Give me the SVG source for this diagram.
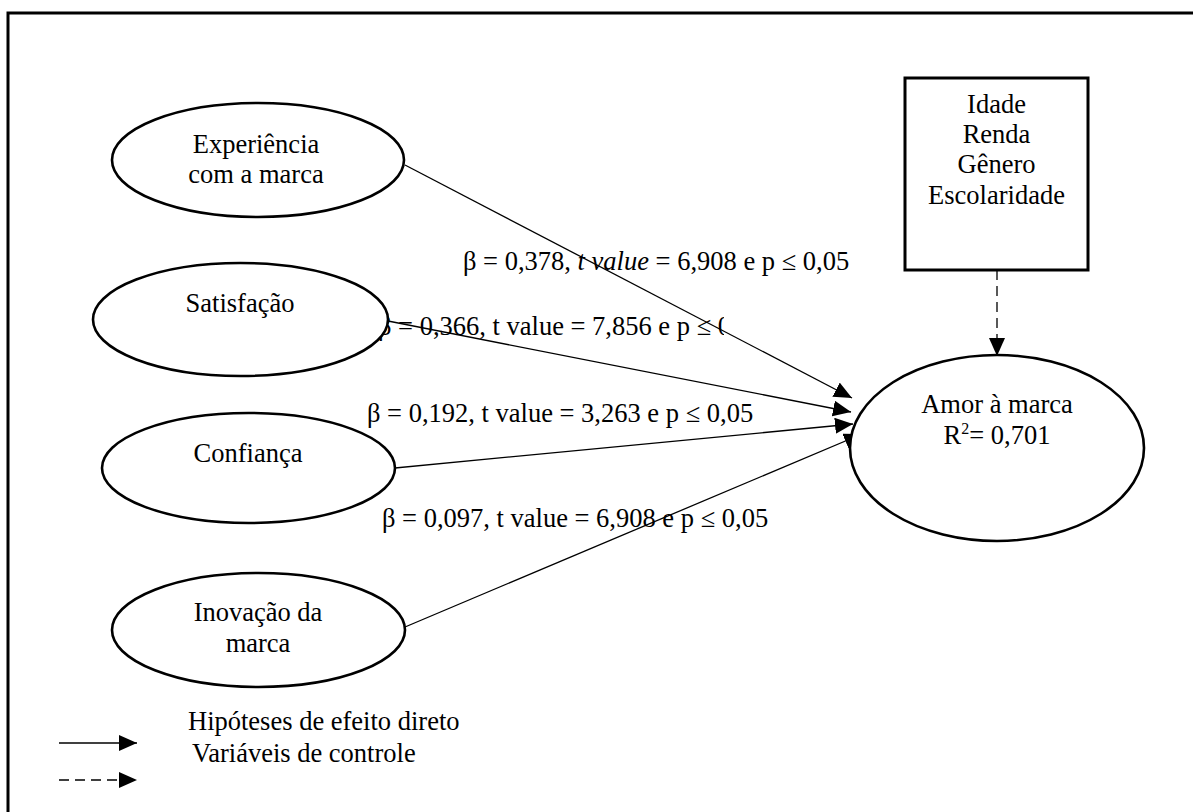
<svg xmlns="http://www.w3.org/2000/svg" width="1193" height="812" viewBox="0 0 1193 812">
<style>
text{font-family:"Liberation Serif","Times New Roman",serif;font-size:26.5px;fill:#000}
.c{text-anchor:middle}
.node{fill:#fff;stroke:#000;stroke-width:2.6}
.arr{stroke:#000;stroke-width:1.3;fill:none}
.dash{stroke-dasharray:10 6}
</style>
<defs>
<marker id="ah" markerUnits="userSpaceOnUse" markerWidth="20" markerHeight="16" refX="18" refY="8" orient="auto">
<path d="M0,0 L18,8 L0,16 Z" fill="#000"/>
</marker>
<clipPath id="clip2"><rect x="0" y="0" width="724" height="812"/></clipPath>
</defs>
<rect x="0" y="0" width="1193" height="812" fill="#fff"/>
<rect x="8" y="13" width="1200" height="820" fill="none" stroke="#000" stroke-width="3"/>
<g id="labels">
<text x="463" y="270">β = 0,378, <tspan font-style="italic">t value</tspan> = 6,908 e p ≤ 0,05</text>
<text x="378" y="335" clip-path="url(#clip2)">β = 0,366, t value = 7,856 e p ≤ 0,05</text>
<text x="367" y="422">β = 0,192, t value = 3,263 e p ≤ 0,05</text>
<text x="382" y="527">β = 0,097, t value = 6,908 e p ≤ 0,05</text>
</g>
<g id="connectors">
<line class="arr" x1="405" y1="165" x2="852" y2="398" marker-end="url(#ah)"/>
<line class="arr" x1="388" y1="321" x2="851" y2="412" marker-end="url(#ah)"/>
<line class="arr" x1="395" y1="468" x2="853" y2="424" marker-end="url(#ah)"/>
<line class="arr" x1="405" y1="627" x2="862" y2="434" marker-end="url(#ah)"/>
<line class="arr dash" x1="997" y1="270" x2="997" y2="356" marker-end="url(#ah)"/>
</g>
<g id="n-experiencia">
<ellipse class="node" cx="258" cy="160" rx="146" ry="57"/>
<text class="c" x="256" y="153">Experiência</text>
<text class="c" x="256" y="183">com a marca</text>
</g>
<g id="n-satisfacao">
<ellipse class="node" cx="240.5" cy="319.5" rx="147.5" ry="56.5"/>
<text class="c" x="240" y="312">Satisfação</text>
</g>
<g id="n-confianca">
<ellipse class="node" cx="248.5" cy="468" rx="146.5" ry="55"/>
<text class="c" x="248" y="462">Confiança</text>
</g>
<g id="n-inovacao">
<ellipse class="node" cx="258.5" cy="630" rx="146.5" ry="57"/>
<text class="c" x="258" y="621">Inovação da</text>
<text class="c" x="258" y="652">marca</text>
</g>
<g id="n-amor">
<ellipse class="node" cx="997" cy="448" rx="147" ry="93"/>
<text class="c" x="997" y="413">Amor à marca</text>
<text class="c" x="997" y="444">R<tspan font-size="16" dy="-10">2</tspan><tspan dy="10">= 0,701</tspan></text>
</g>
<g id="n-controle">
<rect x="905" y="78" width="183" height="192" fill="#fff" stroke="#000" stroke-width="3"/>
<text class="c" x="996.5" y="113">Idade</text>
<text class="c" x="996.5" y="143">Renda</text>
<text class="c" x="996.5" y="173">Gênero</text>
<text class="c" x="996.5" y="204">Escolaridade</text>
</g>
<g id="legend">
<line class="arr" x1="59" y1="743" x2="137" y2="743" marker-end="url(#ah)"/>
<line class="arr dash" x1="59" y1="780" x2="137" y2="780" stroke-dasharray="8 5" marker-end="url(#ah)"/>
<text x="188" y="730">Hipóteses de efeito direto</text>
<text x="192" y="762">Variáveis de controle</text>
</g>
</svg>
